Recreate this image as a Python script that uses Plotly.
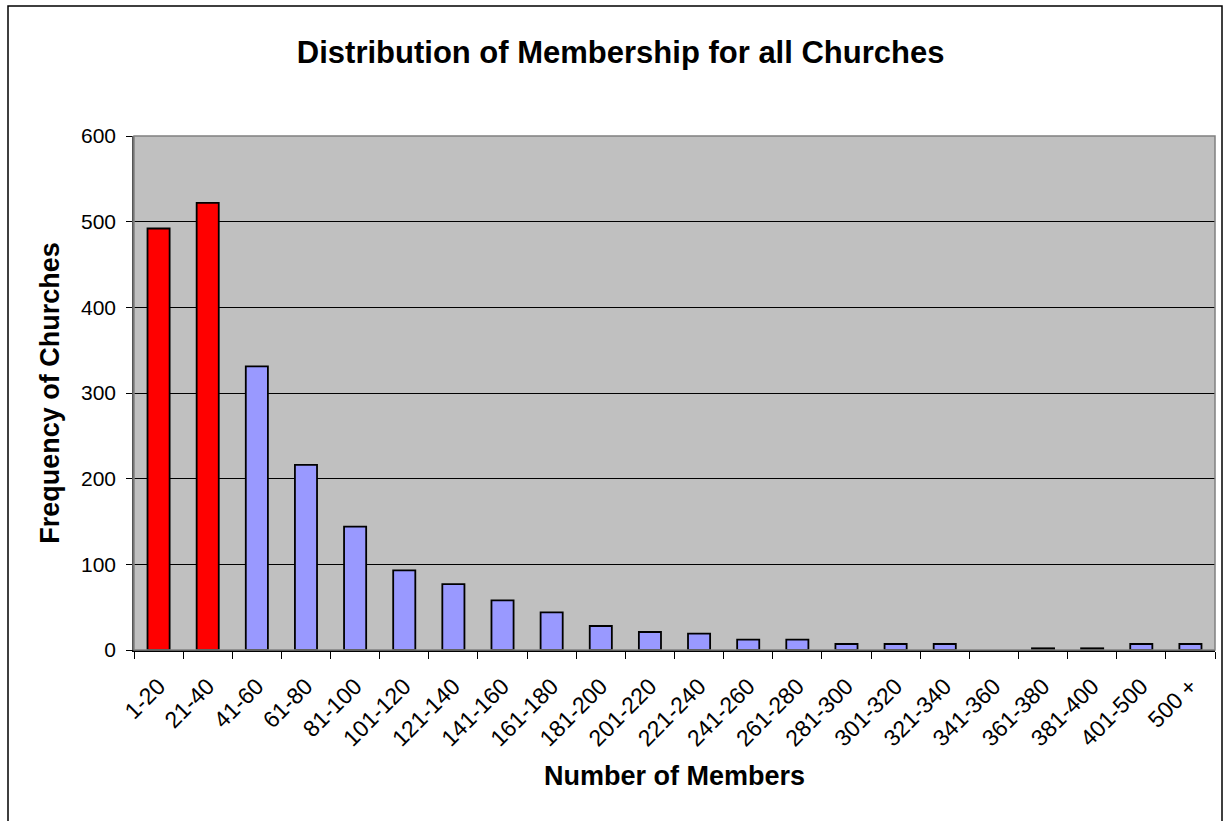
import plotly.graph_objects as go

categories = ["1-20", "21-40", "41-60", "61-80", "81-100", "101-120", "121-140",
              "141-160", "161-180", "181-200", "201-220", "221-240", "241-260",
              "261-280", "281-300", "301-320", "321-340", "341-360", "361-380",
              "381-400", "401-500", "500 +"]
frequency = [492, 522, 331, 216, 144, 93, 77, 58, 44, 28, 21, 19, 12, 12, 7, 7, 7, 0, 2, 2, 7, 7]
highlighted = ["1-20", "21-40"]
y_ticks = [0, 100, 200, 300, 400, 500, 600]

colors = ["#FF0000" if c in highlighted else "#9999FF" for c in categories]
line_widths = [1.8 if v > 0 else 0 for v in frequency]

fig = go.Figure()
fig.add_trace(go.Bar(
    x=categories, y=frequency,
    marker=dict(color=colors, line=dict(color="black", width=line_widths)),
    hoverinfo="x+y",
))

font_family = "Liberation Sans, Arial, sans-serif"

fig.update_layout(
    width=1229, height=821,
    margin=dict(l=134, r=14, t=136, b=171),
    paper_bgcolor="white",
    plot_bgcolor="#C0C0C0",
    bargap=0.55,
    showlegend=False,
    font=dict(family=font_family, color="black"),
    title=dict(text="<b>Distribution of Membership for all Churches</b>",
               x=0.505, xref="container", xanchor="center",
               y=1 - 52 / 821, yref="container", yanchor="middle",
               font=dict(size=31, family=font_family, color="black")),
    xaxis=dict(
        type="category",
        tickangle=-45,
        tickfont=dict(size=23, family=font_family),
        ticks="outside", ticklen=7, tickcolor="black", tickson="boundaries",
        ticklabelstandoff=12,
        showline=True, linecolor="black", linewidth=1.5,
        showgrid=False,
        title=dict(text="<b>Number of Members</b>", standoff=16,
                   font=dict(size=27, family=font_family)),
    ),
    yaxis=dict(
        range=[0, 600],
        tickvals=y_ticks,
        tickfont=dict(size=21, family=font_family),
        ticks="outside", ticklen=6, tickcolor="black",
        ticklabelstandoff=6,
        showline=True, linecolor="#555555", linewidth=1.5,
        showgrid=True, gridcolor="black", gridwidth=1,
        zeroline=False,
        title=dict(text="<b>Frequency of Churches</b>", standoff=14,
                   font=dict(size=27, family=font_family)),
    ),
    shapes=[
        dict(type="rect", xref="paper", yref="paper", x0=0, x1=1, y0=0, y1=1,
             line=dict(color="#808080", width=1.5), fillcolor="rgba(0,0,0,0)", layer="above"),
        dict(type="rect", xref="paper", yref="paper",
             x0=-126 / 1081, x1=1 + 7 / 1081, y0=-200 / 514, y1=1 + 130 / 514,
             line=dict(color="black", width=1.5), fillcolor="rgba(0,0,0,0)"),
    ],
)

fig.write_html("out.html")
